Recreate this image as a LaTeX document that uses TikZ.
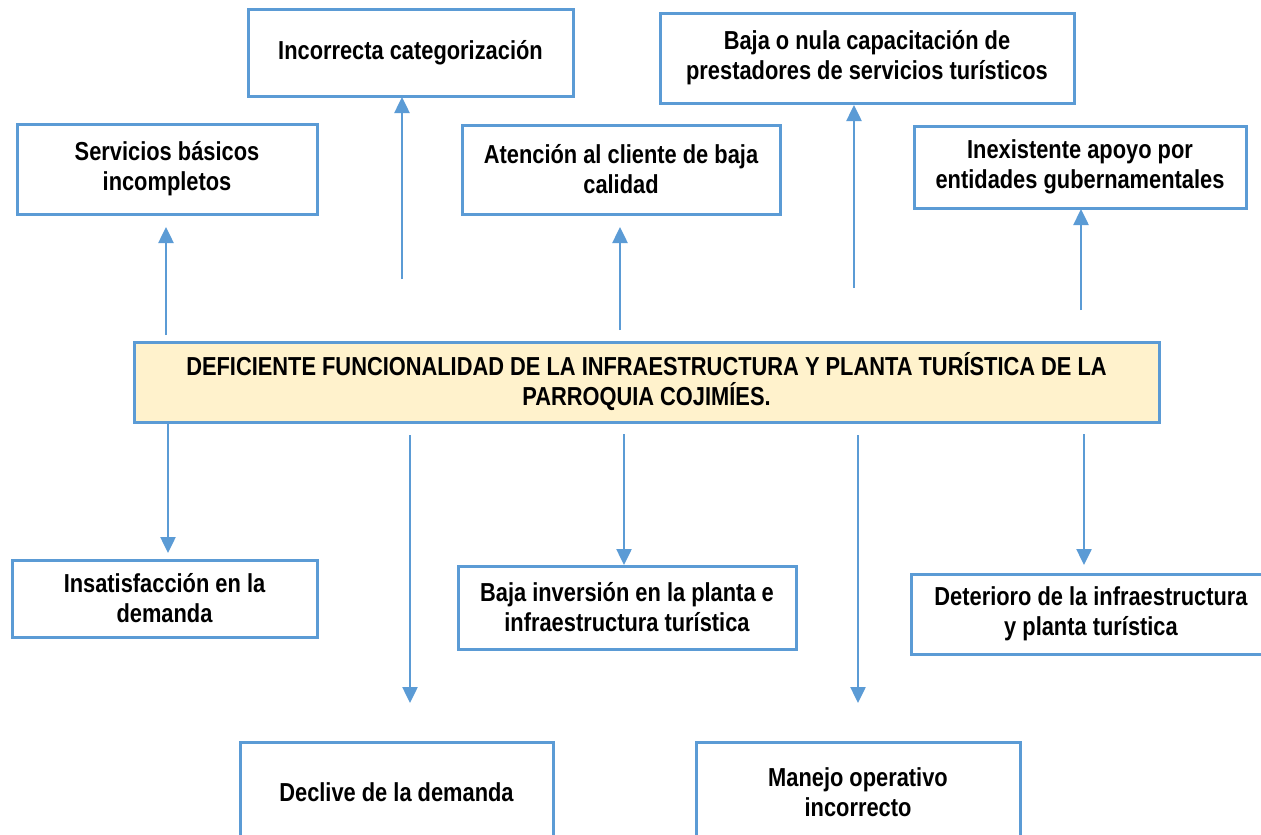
\documentclass[tikz,border=0pt]{standalone}
\usepackage{fontspec}
\setmainfont{Liberation Sans}[FakeStretch=0.84]
\usetikzlibrary{arrows.meta}
\definecolor{lblue}{HTML}{5B9BD5}
\definecolor{lyellow}{HTML}{FFF2CC}
\begin{document}
\begin{tikzpicture}[x=1pt,y=-1pt,
  box/.style={draw=lblue, line width=3pt, fill=white, inner sep=0pt, outer sep=0pt,
    align=center, font=\fontsize{26}{30}\selectfont\bfseries, text=black},
  mainbox/.style={box, fill=lyellow},
  arr/.style={draw=lblue, line width=2.5pt, -{Triangle[length=16pt,width=15pt]}}]
\useasboundingbox (0,0) rectangle (1261,835);
% upper boxes (causes)
\node[box, minimum width=300pt, minimum height=90pt] (serv) at (167,169) {Servicios básicos\\incompletos};
\node[box, minimum width=325pt, minimum height=87pt] (inc) at (410.5,52.5) {Incorrecta categorización};
\node[box, minimum width=318pt, minimum height=89pt] (aten) at (621,169.5) {Atención al cliente de baja\\calidad};
\node[box, minimum width=414pt, minimum height=90pt] (baja) at (867,58) {Baja o nula capacitación de\\prestadores de servicios turísticos};
\node[box, minimum width=332pt, minimum height=82pt] (inex) at (1080,167) {Inexistente apoyo por\\entidades gubernamentales};
% central problem
\node[mainbox, minimum width=1025pt, minimum height=80pt] (main) at (646.5,382) {DEFICIENTE FUNCIONALIDAD DE LA INFRAESTRUCTURA Y PLANTA TURÍSTICA DE LA\\PARROQUIA COJIMÍES.};
% lower boxes (effects)
\node[box, minimum width=305pt, minimum height=77pt] (insat) at (164.5,598.5) {Insatisfacción en la\\demanda};
\node[box, minimum width=338pt, minimum height=83pt] (inv) at (627,607.5) {Baja inversión en la planta e\\infraestructura turística};
\node[box, minimum width=360pt, minimum height=80pt] (det) at (1091,614) {Deterioro de la infraestructura\\y planta turística};
\node[box, minimum width=313pt, minimum height=100pt] (decl) at (396.5,792) {Declive de la demanda};
\node[box, minimum width=324pt, minimum height=100pt] (man) at (858,792) {Manejo operativo\\incorrecto};
% free ends of connectors
\coordinate (u1) at (166,335);
\coordinate (u2) at (402,279);
\coordinate (u3) at (620,330);
\coordinate (u4) at (854,288);
\coordinate (u5) at (1081,310);
\coordinate (d1) at (168,0);
\coordinate (d2) at (410,435);
\coordinate (d3) at (624,434);
\coordinate (d4) at (858,435);
\coordinate (d5) at (1084,434);
% up arrows
\draw[arr, shorten >=13pt] (u1) -- (u1 |- serv.south);
\draw[arr, shorten >=1pt] (u2) -- (u2 |- inc.south);
\draw[arr, shorten >=13pt] (u3) -- (u3 |- aten.south);
\draw[arr, shorten >=2pt] (u4) -- (u4 |- baja.south);
\draw[arr, shorten >=1pt] (u5) -- (u5 |- inex.south);
% down arrows
\draw[arr, shorten >=7pt] (d1 |- main.south) -- (d1 |- insat.north);
\draw[arr, shorten >=39pt] (d2) -- (d2 |- decl.north);
\draw[arr, shorten >=1pt] (d3) -- (d3 |- inv.north);
\draw[arr, shorten >=39pt] (d4) -- (d4 |- man.north);
\draw[arr, shorten >=9pt] (d5) -- (d5 |- det.north);
\end{tikzpicture}
\end{document}
